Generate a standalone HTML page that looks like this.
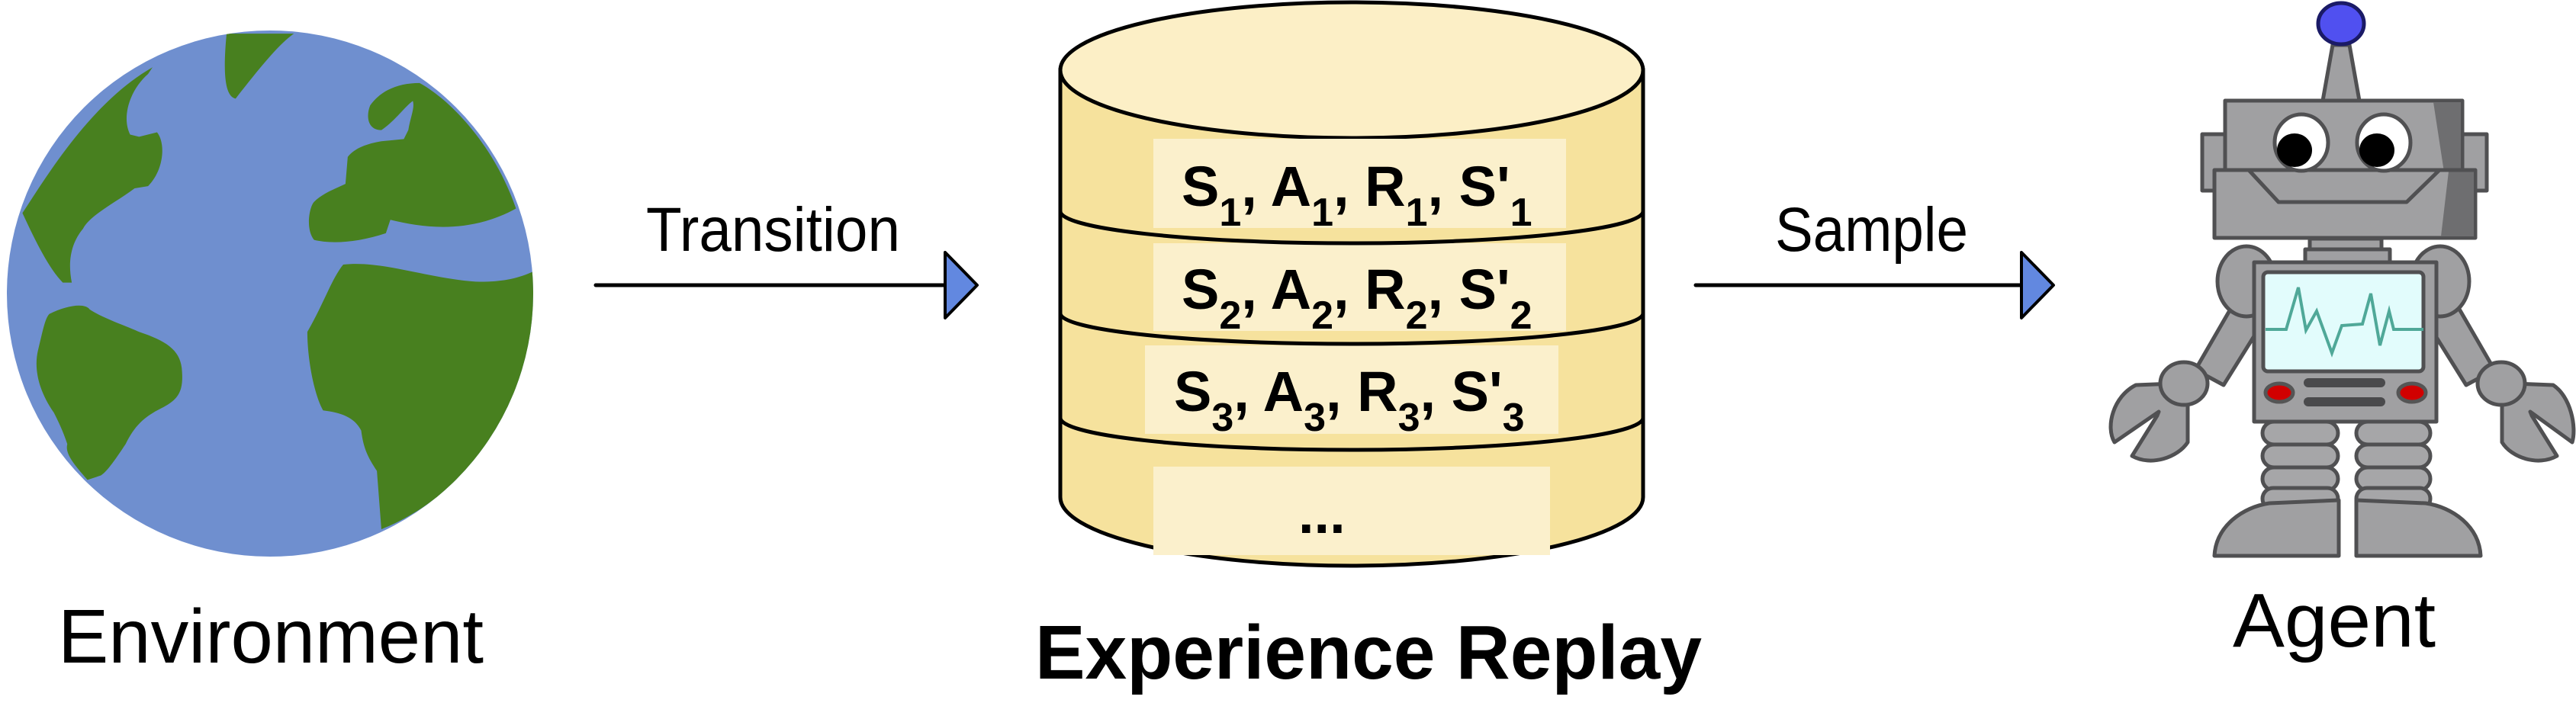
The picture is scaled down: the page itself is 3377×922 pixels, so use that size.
<!DOCTYPE html>
<html><head><meta charset="utf-8"><style>
html,body{margin:0;padding:0;background:#fff;}
svg{display:block;}
</style></head><body>
<svg width="3377" height="922" viewBox="0 0 3377 922" xmlns="http://www.w3.org/2000/svg">
<defs><clipPath id="gc"><circle cx="354" cy="385" r="345"/></clipPath></defs>
<!-- Globe -->
<circle cx="354" cy="385" r="345" fill="#6f8fcf"/>
<g clip-path="url(#gc)"><g transform="scale(0.5882)" fill="#48801f">
<path d="M 50,475 C 100,400 200,230 340,150 L 330,165 C 290,200 270,260 290,300 L 310,305 350,295 C 370,320 365,380 330,415 L 300,420 C 260,450 200,480 185,510 C 160,540 150,580 160,630 L 140,630 C 110,600 80,540 50,475 Z"/>
<path d="M 505,75 L 655,75 C 620,100 580,150 525,220 C 505,215 495,180 505,75 Z"/>
<path d="M 935,185 C 1000,220 1100,320 1150,465 C 1050,520 950,510 870,490 L 860,520 C 800,540 740,545 700,535 C 680,510 690,460 700,450 C 720,430 750,420 770,410 L 775,350 C 790,330 820,320 850,315 L 900,310 910,290 C 915,260 925,240 920,225 C 900,240 880,270 850,290 C 820,290 815,260 825,235 C 850,200 890,185 935,185 Z"/>
<path d="M 765,590 C 850,580 950,620 1060,628 C 1120,630 1160,620 1200,600 L 1200,700 C 1170,900 1050,1100 850,1180 L 840,1050 C 820,1020 810,1000 805,960 C 790,930 760,920 720,915 C 700,880 685,800 685,740 C 720,680 740,620 765,590 Z"/>
<path d="M 110,700 C 150,680 190,675 200,690 C 230,710 290,730 310,740 C 370,760 400,780 405,820 C 410,870 400,890 360,910 C 320,930 300,950 280,990 C 260,1020 240,1050 225,1060 L 195,1070 C 160,1030 145,1010 150,990 C 140,960 130,940 120,920 C 85,870 75,820 85,780 C 95,740 100,710 110,700 Z"/>
</g></g>
<text x="76" y="869" font-family="Liberation Sans, sans-serif" font-size="100" textLength="558" lengthAdjust="spacingAndGlyphs">Environment</text>

<!-- Transition arrow -->
<text x="847" y="329" font-family="Liberation Sans, sans-serif" font-size="82" textLength="333" lengthAdjust="spacingAndGlyphs">Transition</text>
<line x1="781" y1="374" x2="1240" y2="374" stroke="#000" stroke-width="5" stroke-linecap="round"/>
<path d="M1239,331 L1281,374 L1239,417 Z" fill="#6288e0" stroke="#000" stroke-width="4" stroke-linejoin="round"/>

<!-- Sample arrow -->
<text x="2327" y="329" font-family="Liberation Sans, sans-serif" font-size="82" textLength="253" lengthAdjust="spacingAndGlyphs">Sample</text>
<line x1="2223" y1="374" x2="2651" y2="374" stroke="#000" stroke-width="5" stroke-linecap="round"/>
<path d="M2650,331 L2692,374 L2650,417 Z" fill="#6288e0" stroke="#000" stroke-width="4" stroke-linejoin="round"/>

<!-- Cylinder -->
<path d="M1390,92 L1390,652 A382,90 0 0 0 2154,652 L2154,92 Z" fill="#f6e29d" stroke="#000" stroke-width="5"/>
<ellipse cx="1772" cy="92" rx="382" ry="89" fill="#fcefc6" stroke="#000" stroke-width="5"/>
<g fill="#fbf0cc">
<rect x="1512" y="182" width="541" height="117"/>
<rect x="1512" y="319" width="541" height="115"/>
<rect x="1501" y="453" width="542" height="116"/>
<rect x="1512" y="612" width="520" height="116"/>
</g>
<g fill="none" stroke="#000" stroke-width="5">
<path d="M1390,277 A382,42 0 0 0 2154,277"/>
<path d="M1390,411 A382,40 0 0 0 2154,411"/>
<path d="M1390,548 A382,42 0 0 0 2154,548"/>
</g>
<g font-family="Liberation Sans, sans-serif" font-weight="bold" font-size="74">
<text x="1549" y="270">S<tspan font-size="52" dy="26">1</tspan><tspan dy="-26">, A</tspan><tspan font-size="52" dy="26">1</tspan><tspan dy="-26">, R</tspan><tspan font-size="52" dy="26">1</tspan><tspan dy="-26">, S'</tspan><tspan font-size="52" dy="26">1</tspan></text>
<text x="1549" y="405">S<tspan font-size="52" dy="26">2</tspan><tspan dy="-26">, A</tspan><tspan font-size="52" dy="26">2</tspan><tspan dy="-26">, R</tspan><tspan font-size="52" dy="26">2</tspan><tspan dy="-26">, S'</tspan><tspan font-size="52" dy="26">2</tspan></text>
<text x="1539" y="539">S<tspan font-size="52" dy="26">3</tspan><tspan dy="-26">, A</tspan><tspan font-size="52" dy="26">3</tspan><tspan dy="-26">, R</tspan><tspan font-size="52" dy="26">3</tspan><tspan dy="-26">, S'</tspan><tspan font-size="52" dy="26">3</tspan></text>
<text x="1702" y="699">...</text>
</g>
<text x="1357" y="890" font-family="Liberation Sans, sans-serif" font-weight="bold" font-size="100" textLength="874" lengthAdjust="spacingAndGlyphs">Experience Replay</text>

<!-- Robot -->
<g stroke="#505052" stroke-width="5" stroke-linejoin="round">
<!-- antenna -->
<path d="M3045,132 L3058,59 L3080,59 L3093,132 Z" fill="#a0a0a2"/>
<ellipse cx="3069" cy="31" rx="30" ry="27" fill="#5050f0" stroke="#1a1a66"/>
<!-- ears -->
<rect x="2887" y="176" width="32" height="74" fill="#a0a0a2"/>
<rect x="3227" y="176" width="33" height="74" fill="#a0a0a2"/>
<!-- head -->
<rect x="2917" y="132" width="311" height="100" fill="#a0a0a2"/>
<path d="M3190,134 L3226,134 L3226,232 L3205,232 Z" fill="#6e6e70" stroke="none"/>
<rect x="2903" y="223" width="342" height="89" fill="#a0a0a2"/>
<path d="M3210,225 L3243,225 L3243,310 L3200,310 Z" fill="#6e6e70" stroke="none"/>
<path d="M2903,223 L2948,223 L2987,265 L3155,265 L3198,223 L3245,223" fill="none"/>
<ellipse cx="3017" cy="187" rx="35" ry="37" fill="#fff"/>
<ellipse cx="3008" cy="197" rx="23" ry="22" fill="#000" stroke="none"/>
<ellipse cx="3125" cy="187" rx="35" ry="37" fill="#fff"/>
<ellipse cx="3116" cy="197" rx="23" ry="22" fill="#000" stroke="none"/>
<!-- neck -->
<rect x="3028" y="313" width="94" height="15" fill="#a0a0a2"/>
<rect x="3022" y="327" width="111" height="18" fill="#a0a0a2"/>
<!-- arms -->
<path d="M2930,395 L2968,420 L2915,505 L2878,485 Z" fill="#a0a0a2"/>
<path d="M3218,395 L3180,420 L3233,505 L3270,485 Z" fill="#a0a0a2"/>
<!-- claws -->
<path d="M2850,503 L2800,505 C2770,520 2760,560 2772,580 L2830,540 L2828,545 L2795,598 C2820,612 2855,600 2868,580 L2868,520 Z" fill="#a0a0a2"/>
<path d="M3297,503 L3347,505 C3370,520 3378,560 3372,580 L3317,540 L3319,545 L3352,598 C3327,612 3292,600 3280,580 L3280,520 Z" fill="#a0a0a2"/>
<ellipse cx="2863" cy="503" rx="31" ry="28" fill="#a0a0a2"/>
<ellipse cx="3279" cy="503" rx="31" ry="28" fill="#a0a0a2"/>
<!-- shoulders -->
<ellipse cx="2945" cy="369" rx="38" ry="46" fill="#a0a0a2"/>
<ellipse cx="3199" cy="369" rx="38" ry="46" fill="#a0a0a2"/>
<!-- legs -->
<g fill="#a6a6a8">
<rect x="2966" y="553" width="99" height="30" rx="15"/>
<rect x="2966" y="583" width="99" height="30" rx="15"/>
<rect x="2966" y="613" width="99" height="30" rx="15"/>
<rect x="2966" y="640" width="99" height="28" rx="14"/>
<rect x="3089" y="553" width="97" height="30" rx="15"/>
<rect x="3089" y="583" width="97" height="30" rx="15"/>
<rect x="3089" y="613" width="97" height="30" rx="15"/>
<rect x="3089" y="640" width="97" height="28" rx="14"/>
</g>
<!-- feet -->
<path d="M2903,729 C2905,690 2940,665 2975,660 L3066,656 L3066,729 Z" fill="#a0a0a2"/>
<path d="M3252,729 C3250,690 3215,665 3180,660 L3089,656 L3089,729 Z" fill="#a0a0a2"/>
<!-- body -->
<rect x="2955" y="344" width="239" height="209" fill="#a0a0a2"/>
<rect x="2967" y="357" width="210" height="130" rx="6" fill="#e2fcfc"/>
<ellipse cx="2988" cy="515" rx="18" ry="12" fill="#d10000" stroke="#555"/>
<ellipse cx="3162" cy="515" rx="18" ry="12" fill="#d10000" stroke="#555"/>
<rect x="3020" y="496" width="107" height="12" rx="6" fill="#4a4a4c" stroke="none"/>
<rect x="3020" y="521" width="107" height="12" rx="6" fill="#4a4a4c" stroke="none"/>
</g>
<polyline points="2970,432 2997,432 3013,377 3023,433 3037,408 3057,463 3070,427 3097,425 3108,385 3120,453 3132,408 3138,432 3177,432" fill="none" stroke="#4fa898" stroke-width="4"/>
<text x="2927" y="848" font-family="Liberation Sans, sans-serif" font-size="100" textLength="266" lengthAdjust="spacingAndGlyphs">Agent</text>
</svg>
</body></html>
